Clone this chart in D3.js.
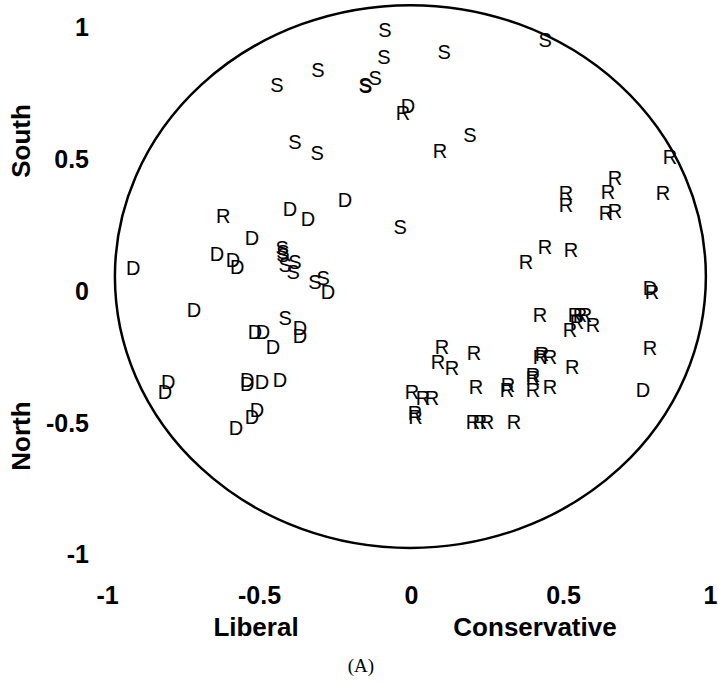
<!DOCTYPE html>
<html>
<head>
<meta charset="utf-8">
<script src="https://cdn.jsdelivr.net/npm/d3@7"></script>
<style>
  body { margin: 0; background: #fff; }
  svg { display: block; }
  .tick text { font-family: Arial, "Liberation Sans", sans-serif; font-weight: bold; }
</style>
</head>
<body>
<div class="plot"></div>
<script>
// tick values / labels
const xTicks = [-1, -0.5, 0, 0.5, 1];
const yTicks = [-1, -0.5, 0, 0.5, 1];
const tickLabels = ['-1', '-0.5', '0', '0.5', '1'];

// southern senators
const southern = [
  [-0.086, 0.989], [-0.089, 0.887], [0.109, 0.906], [0.441, 0.951],
  [-0.306, 0.837], [-0.441, 0.780], [-0.151, 0.780], [-0.149, 0.778],
  [-0.118, 0.806], [-0.382, 0.564], [-0.309, 0.522], [0.194, 0.590],
  [-0.036, 0.241], [-0.424, 0.161], [-0.421, 0.146], [-0.421, 0.135],
  [-0.382, 0.108], [-0.414, 0.097], [-0.388, 0.070], [-0.316, 0.032],
  [-0.289, 0.047], [-0.414, -0.104]
];

// northern democrats
const dems = [
  [-0.010, 0.700], [-0.217, 0.343], [-0.398, 0.309], [-0.339, 0.271],
  [-0.523, 0.199], [-0.638, 0.139], [-0.586, 0.116], [-0.572, 0.089],
  [-0.914, 0.085], [-0.273, -0.006], [-0.714, -0.074], [-0.513, -0.157],
  [-0.487, -0.157], [-0.454, -0.214], [-0.365, -0.142], [-0.365, -0.173],
  [-0.799, -0.347], [-0.809, -0.385], [-0.539, -0.340], [-0.539, -0.355],
  [-0.490, -0.347], [-0.431, -0.340], [-0.507, -0.454], [-0.523, -0.480],
  [-0.576, -0.522], [0.763, -0.378], [0.786, 0.012]
];

// northern republicans
const reps = [
  [-0.026, 0.674], [-0.618, 0.283], [0.095, 0.529], [0.852, 0.507],
  [0.671, 0.427], [0.510, 0.370], [0.510, 0.324], [0.648, 0.374],
  [0.829, 0.370], [0.641, 0.294], [0.671, 0.302], [0.441, 0.165],
  [0.378, 0.108], [0.526, 0.154], [0.793, -0.006], [0.424, -0.093],
  [0.539, -0.093], [0.556, -0.093], [0.572, -0.093], [0.546, -0.120],
  [0.523, -0.150], [0.599, -0.131], [0.786, -0.218], [0.431, -0.241],
  [0.424, -0.252], [0.457, -0.252], [0.530, -0.290], [0.401, -0.321],
  [0.401, -0.332], [0.401, -0.378], [0.457, -0.366], [0.319, -0.359],
  [0.316, -0.378], [0.214, -0.366], [0.207, -0.237], [0.102, -0.214],
  [0.089, -0.271], [0.135, -0.294], [0.003, -0.385], [0.039, -0.408],
  [0.069, -0.408], [0.013, -0.465], [0.015, -0.480], [0.204, -0.499],
  [0.227, -0.499], [0.250, -0.499], [0.339, -0.499]
];

// the reference circle (as drawn, slightly off-centre)
const ring = { cx: -0.002, cy: 0.053, rx: 0.972, ry: 1.030 };

function drawChart(d3) {
  let width = 718;
  let height = 683;
  let font = 'Arial, "Liberation Sans", sans-serif';

  let svg = d3.select('.plot')
    .append('svg')
    .attr('width', width)
    .attr('height', height)
    .attr('viewBox', '0 0 ' + width + ' ' + height);

  // scales
  let xScale = d3.scaleLinear().domain([-1, 1]).range([107, 715]);
  let yScale = d3.scaleLinear().domain([-1, 1]).range([554, 27]);

  // circle
  svg.append('ellipse')
    .attr('cx', xScale(ring.cx))
    .attr('cy', yScale(ring.cy))
    .attr('rx', xScale(ring.rx) - xScale(0))
    .attr('ry', yScale(0) - yScale(ring.ry))
    .attr('fill', 'none')
    .attr('stroke', '#000')
    .attr('stroke-width', 2.5);

  // axes: labels only
  let xAxis = svg.append('g')
    .attr('transform', 'translate(0, 595)')
    .call(d3.axisBottom(xScale).tickValues(xTicks).tickSize(0).tickPadding(0)
      .tickFormat((d, i) => tickLabels[i]));
  xAxis.select('.domain').remove();
  xAxis.selectAll('text')
    .attr('dy', '0.35em')
    .attr('dx', d => d === 1 ? -5 : 0)   // keep the last label inside the page
    .attr('font-size', 25)
    .attr('fill', '#000');

  let yAxis = svg.append('g')
    .attr('transform', 'translate(89, 0)')
    .call(d3.axisLeft(yScale).tickValues(yTicks).tickSize(0).tickPadding(0)
      .tickFormat((d, i) => tickLabels[i]));
  yAxis.select('.domain').remove();
  yAxis.selectAll('text')
    .attr('dy', '0.35em')
    .attr('font-size', 25)
    .attr('fill', '#000');

  // letter markers
  let groups = [
    { letter: 'S', data: southern },
    { letter: 'D', data: dems },
    { letter: 'R', data: reps }
  ];
  groups.forEach(function(grp) {
    svg.append('g')
      .selectAll('text')
      .data(grp.data)
      .enter().append('text')
      .attr('x', d => xScale(d[0]))
      .attr('y', d => yScale(d[1]))
      .attr('dy', '0.36em')
      .attr('text-anchor', 'middle')
      .attr('font-family', font)
      .attr('font-size', 20)
      .attr('fill', '#000')
      .text(grp.letter);
  });

  // axis titles
  let titles = [
    { t: 'Liberal', x: 256, y: 627, r: 0 },
    { t: 'Conservative', x: 535, y: 627, r: 0 },
    { t: 'South', x: 21, y: 141, r: -90 },
    { t: 'North', x: 21, y: 436, r: -90 }
  ];
  svg.selectAll('.title')
    .data(titles)
    .enter().append('text')
    .attr('class', 'title')
    .attr('transform', d => 'translate(' + d.x + ',' + d.y + ') rotate(' + d.r + ')')
    .attr('dy', '0.35em')
    .attr('text-anchor', 'middle')
    .attr('font-family', font)
    .attr('font-weight', 'bold')
    .attr('font-size', 26)
    .attr('fill', '#000')
    .text(d => d.t);

  // caption
  svg.append('text')
    .attr('x', 361)
    .attr('y', 672)
    .attr('text-anchor', 'middle')
    .attr('font-family', '"Times New Roman", "Liberation Serif", serif')
    .attr('font-size', 19)
    .attr('fill', '#000')
    .text('(A)');
}

drawChart(d3);
</script>
</body>
</html>
